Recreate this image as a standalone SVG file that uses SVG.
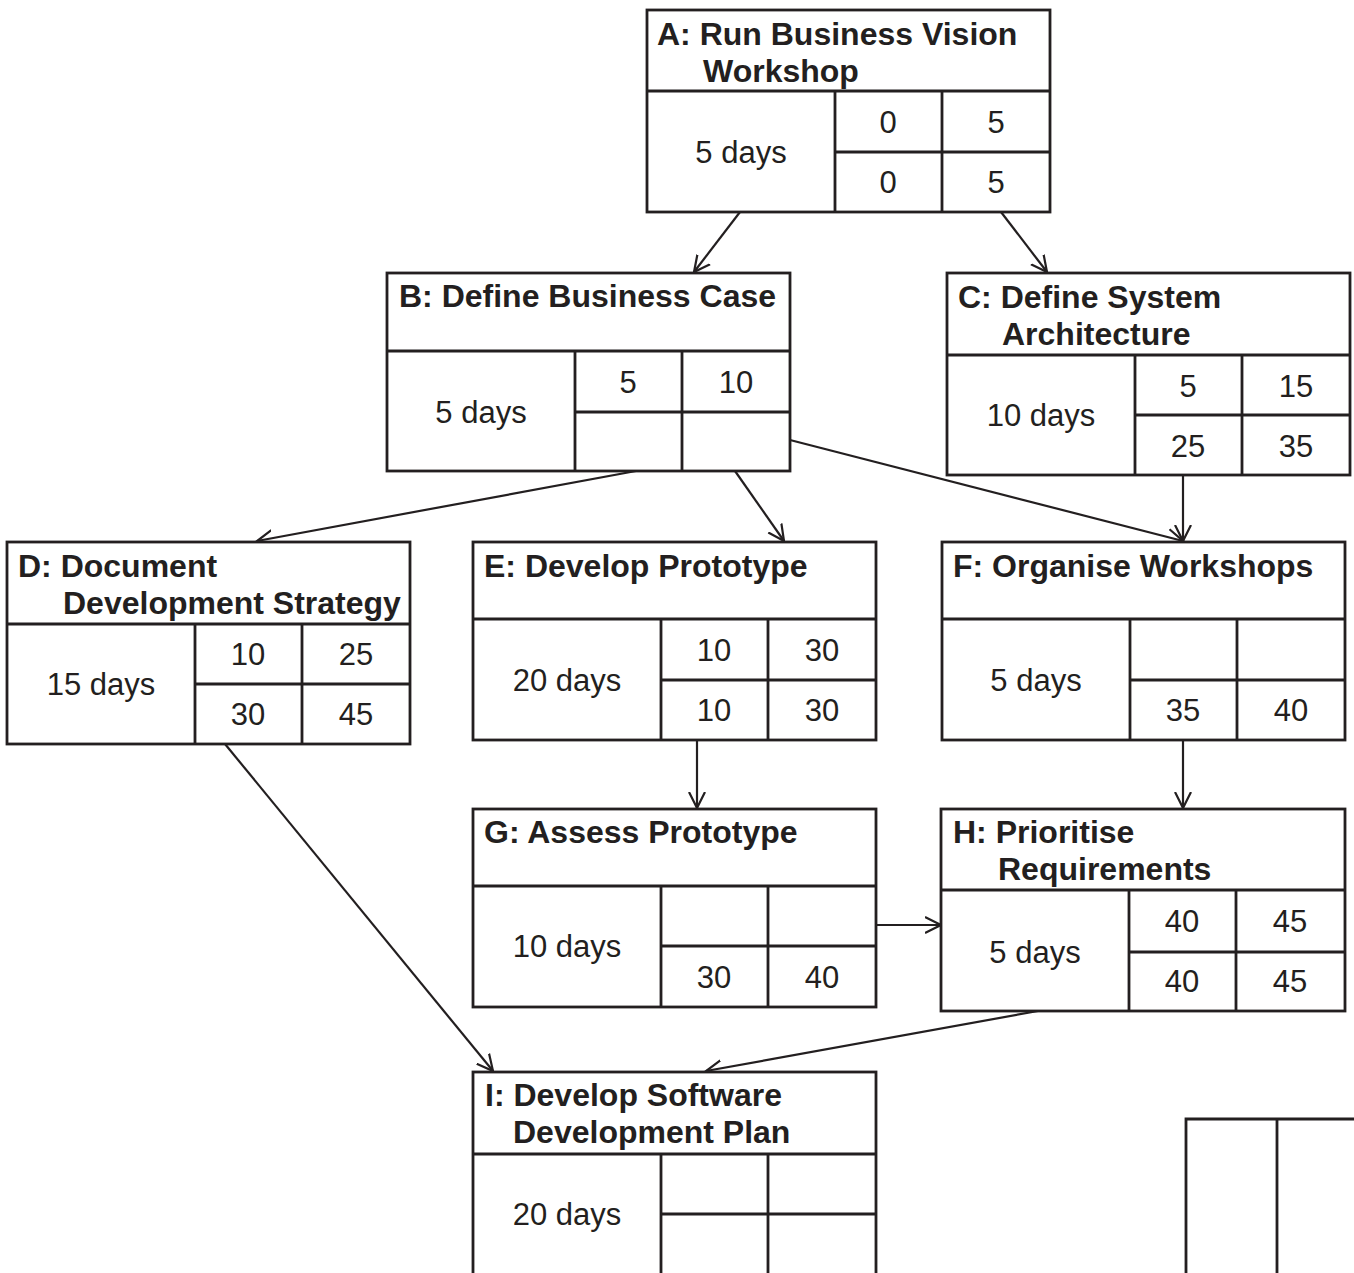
<svg xmlns="http://www.w3.org/2000/svg" width="1354" height="1273" viewBox="0 0 1354 1273">
<style>
.b{fill:#fff;stroke:#231f20;stroke-width:2.8}
.l{stroke:#231f20;stroke-width:2.8;fill:none}
.t{font-family:"Liberation Sans",Arial,sans-serif;font-weight:bold;font-size:32px;fill:#231f20}
.n{font-family:"Liberation Sans",Arial,sans-serif;font-size:31px;fill:#231f20;text-anchor:middle}
.c{stroke:#231f20;stroke-width:2.2;fill:none;marker-end:url(#ah)}
</style>
<defs>
<marker id="ah" markerUnits="userSpaceOnUse" markerWidth="20" markerHeight="20" refX="16" refY="8" orient="auto" viewBox="0 0 20 16">
<path d="M0,0 L16,8 L0,16" fill="none" stroke="#231f20" stroke-width="2.2"/>
</marker>
</defs>
<rect width="1354" height="1273" fill="#fff"/>
<g id="connectors">
<line class="c" x1="740" y1="212" x2="694" y2="272"/>
<line class="c" x1="1001" y1="212" x2="1047" y2="272"/>
<line class="c" x1="636" y1="471" x2="257" y2="541"/>
<line class="c" x1="735" y1="471" x2="784" y2="541"/>
<line class="c" x1="790" y1="440" x2="1183" y2="541"/>
<line class="c" x1="1183" y1="475" x2="1183" y2="541"/>
<line class="c" x1="225" y1="744" x2="493" y2="1071"/>
<line class="c" x1="697" y1="740" x2="697" y2="808"/>
<line class="c" x1="1183" y1="740" x2="1183" y2="808"/>
<line class="c" x1="876" y1="925" x2="941" y2="925"/>
<line class="c" x1="1038" y1="1011" x2="706" y2="1071"/>
</g>
<g id="A">
<rect class="b" x="647" y="10" width="403" height="202"/>
<path class="l" d="M647,91H1050M835,152H1050M835,91V212M942,91V212"/>
<text class="t" x="657" y="45">A: Run Business Vision</text>
<text class="t" x="703" y="82">Workshop</text>
<text class="n" x="741" y="163">5 days</text>
<text class="n" x="888" y="133">0</text><text class="n" x="996" y="133">5</text>
<text class="n" x="888" y="193">0</text><text class="n" x="996" y="193">5</text>
</g>
<g id="B">
<rect class="b" x="387" y="273" width="403" height="198"/>
<path class="l" d="M387,351H790M575,412H790M575,351V471M682,351V471"/>
<text class="t" x="399" y="307">B: Define Business Case</text>
<text class="n" x="481" y="423">5 days</text>
<text class="n" x="628" y="393">5</text><text class="n" x="736" y="393">10</text>
</g>
<g id="C">
<rect class="b" x="947" y="273" width="403" height="202"/>
<path class="l" d="M947,355H1350M1135,415H1350M1135,355V475M1242,355V475"/>
<text class="t" x="958" y="308">C: Define System</text>
<text class="t" x="1002" y="345">Architecture</text>
<text class="n" x="1041" y="426">10 days</text>
<text class="n" x="1188" y="397">5</text><text class="n" x="1296" y="397">15</text>
<text class="n" x="1188" y="457">25</text><text class="n" x="1296" y="457">35</text>
</g>
<g id="D">
<rect class="b" x="7" y="542" width="403" height="202"/>
<path class="l" d="M7,624H410M195,684H410M195,624V744M302,624V744"/>
<text class="t" x="18" y="577">D: Document</text>
<text class="t" x="63" y="614">Development Strategy</text>
<text class="n" x="101" y="695">15 days</text>
<text class="n" x="248" y="665">10</text><text class="n" x="356" y="665">25</text>
<text class="n" x="248" y="725">30</text><text class="n" x="356" y="725">45</text>
</g>
<g id="E">
<rect class="b" x="473" y="542" width="403" height="198"/>
<path class="l" d="M473,619H876M661,680H876M661,619V740M768,619V740"/>
<text class="t" x="484" y="577">E: Develop Prototype</text>
<text class="n" x="567" y="691">20 days</text>
<text class="n" x="714" y="661">10</text><text class="n" x="822" y="661">30</text>
<text class="n" x="714" y="721">10</text><text class="n" x="822" y="721">30</text>
</g>
<g id="F">
<rect class="b" x="942" y="542" width="403" height="198"/>
<path class="l" d="M942,619H1345M1130,680H1345M1130,619V740M1237,619V740"/>
<text class="t" x="953" y="577">F: Organise Workshops</text>
<text class="n" x="1036" y="691">5 days</text>
<text class="n" x="1183" y="721">35</text><text class="n" x="1291" y="721">40</text>
</g>
<g id="G">
<rect class="b" x="473" y="809" width="403" height="198"/>
<path class="l" d="M473,886H876M661,946H876M661,886V1007M768,886V1007"/>
<text class="t" x="484" y="843">G: Assess Prototype</text>
<text class="n" x="567" y="957">10 days</text>
<text class="n" x="714" y="988">30</text><text class="n" x="822" y="988">40</text>
</g>
<g id="H">
<rect class="b" x="941" y="809" width="404" height="202"/>
<path class="l" d="M941,890H1345M1129,952H1345M1129,890V1011M1236,890V1011"/>
<text class="t" x="953" y="843">H: Prioritise</text>
<text class="t" x="998" y="880">Requirements</text>
<text class="n" x="1035" y="963">5 days</text>
<text class="n" x="1182" y="932">40</text><text class="n" x="1290" y="932">45</text>
<text class="n" x="1182" y="992">40</text><text class="n" x="1290" y="992">45</text>
</g>
<g id="I">
<rect class="b" x="473" y="1072" width="403" height="220"/>
<path class="l" d="M473,1154H876M661,1214H876M661,1154V1292M768,1154V1292"/>
<text class="t" x="485" y="1106">I: Develop Software</text>
<text class="t" x="513" y="1143">Development Plan</text>
<text class="n" x="567" y="1225">20 days</text>
</g>
<g id="J">
<path class="l" d="M1186,1280V1119H1360M1277,1119V1280"/>
</g>
</svg>
